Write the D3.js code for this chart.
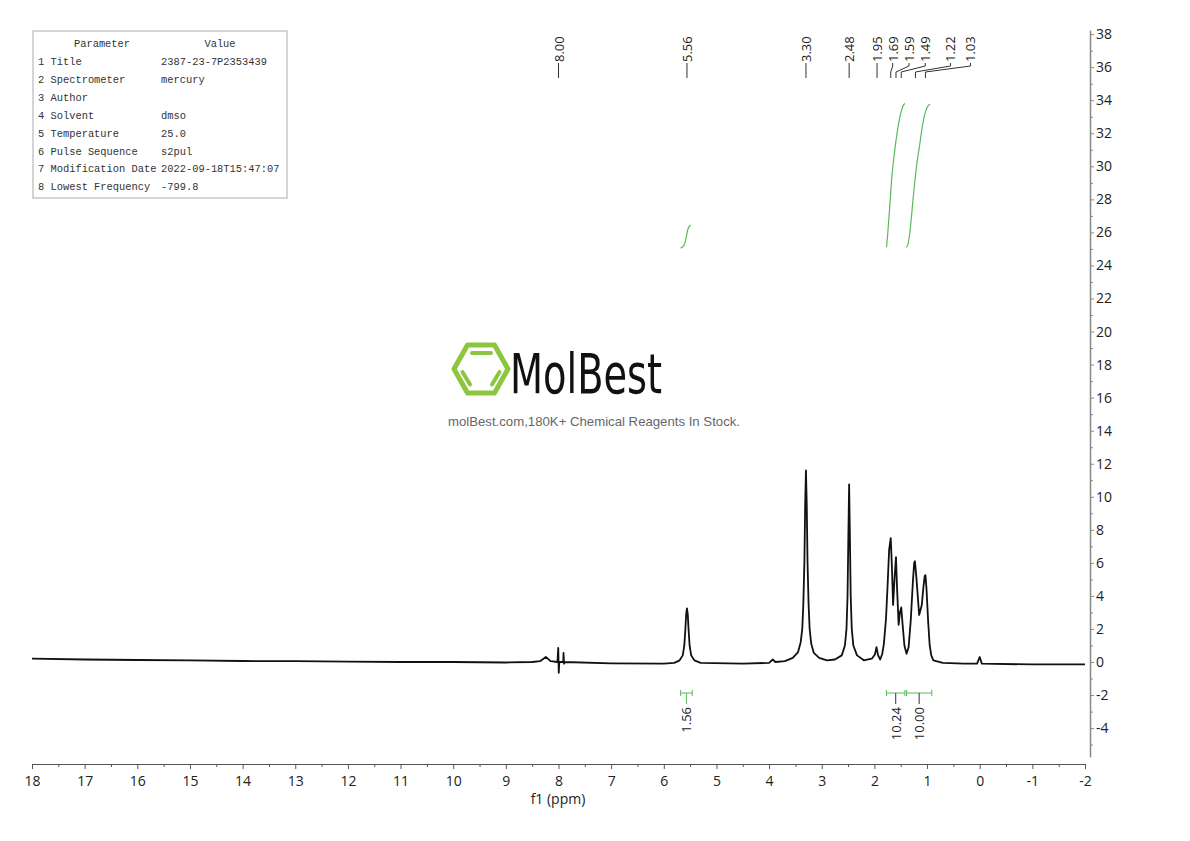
<!DOCTYPE html>
<head>
<meta charset="UTF-8">
<script src="https://d3js.org/d3.v7.min.js"></script>
<style>
  body { margin: 0; background: #fff; }
  text { font-family: "Open Sans", "Noto Sans", sans-serif; }
</style>
</head>
<body>
<div id="my_dataviz"></div>
<script>

// ---- data ----
var ppmTicks = d3.range(18, -3, -1);
var intensityTicks = d3.range(-4, 39, 2);

// spectrum trace [ppm, intensity]
var spectrum = [
  [18.0, 0.2], [17.0, 0.15], [16.0, 0.12], [15.0, 0.1], [14.0, 0.06], [13.0, 0.05],
  [12.0, 0.02], [11.0, 0.0], [10.0, 0.0], [9.0, -0.03], [8.5, 0.0], [8.35, 0.05],
  [8.24, 0.3], [8.15, 0.05], [8.02, 0.0], [8.005, 0.85], [7.995, -0.65], [7.985, 0.0],
  [7.91, 0.0], [7.905, 0.55], [7.895, -0.1], [7.885, 0.0], [7.0, -0.08], [6.0, -0.1],
  [5.8, -0.05], [5.7, 0.1], [5.64, 0.4], [5.61, 1.0], [5.59, 2.0], [5.575, 2.9],
  [5.56, 3.25], [5.545, 2.9], [5.53, 2.0], [5.51, 1.0], [5.48, 0.4], [5.42, 0.1],
  [5.3, -0.05], [4.5, -0.1], [4.0, -0.05], [3.93, 0.15], [3.88, 0.0], [3.7, 0.05],
  [3.55, 0.25], [3.45, 0.6], [3.40, 1.2], [3.37, 2.0], [3.35, 3.5], [3.33, 6.0],
  [3.315, 9.5], [3.30, 11.6], [3.285, 9.5], [3.27, 6.0], [3.25, 3.5], [3.23, 2.0],
  [3.20, 1.1], [3.15, 0.55], [3.05, 0.25], [2.9, 0.1], [2.75, 0.15], [2.62, 0.4],
  [2.56, 1.0], [2.53, 2.0], [2.51, 4.0], [2.495, 7.5], [2.48, 10.75], [2.465, 7.5],
  [2.45, 4.0], [2.43, 2.0], [2.40, 1.0], [2.33, 0.4], [2.2, 0.1], [2.05, 0.2],
  [1.99, 0.45], [1.96, 0.9], [1.93, 0.4], [1.89, 0.15], [1.85, 0.5], [1.82, 1.1],
  [1.78, 2.6], [1.75, 4.6], [1.72, 6.8], [1.69, 7.5], [1.67, 6.0], [1.645, 3.45],
  [1.615, 5.2], [1.59, 6.35], [1.57, 4.5], [1.54, 2.25], [1.515, 3.0], [1.49, 3.3],
  [1.465, 2.3], [1.43, 1.0], [1.39, 0.5], [1.35, 0.9], [1.31, 2.5], [1.27, 4.8],
  [1.245, 6.0], [1.23, 6.1], [1.2, 5.0], [1.15, 2.85], [1.10, 3.45], [1.07, 4.5],
  [1.045, 5.2], [1.03, 5.26], [1.01, 4.4], [0.98, 2.5], [0.95, 1.0], [0.92, 0.4],
  [0.88, 0.1], [0.7, -0.05], [0.3, -0.1], [0.05, -0.1], [0.0, 0.3], [-0.04, -0.1],
  [-1.0, -0.15], [-2.0, -0.15]
];

// integral curves [ppm, level]
var integral1 = [[5.68, 25.05], [5.62, 25.2], [5.58, 25.6], [5.55, 26.1], [5.52, 26.35], [5.49, 26.44]];
var integral2 = [[1.77, 25.1], [1.75, 25.8], [1.71, 27.5], [1.67, 29.3], [1.62, 30.8],
                 [1.56, 32.2], [1.50, 33.2], [1.45, 33.7], [1.42, 33.8]];
var integral3 = [[1.39, 25.1], [1.36, 25.3], [1.32, 26.2], [1.26, 28.2], [1.20, 30.0],
                 [1.14, 31.3], [1.08, 32.6], [1.02, 33.4], [0.97, 33.7], [0.94, 33.75]];

var integralRanges = [[5.68, 5.46], [1.77, 1.42], [1.39, 0.91]];
var integralValues = ["1.56", "10.24", "10.00"];

var peakPpm = [8.00, 5.56, 3.30, 2.48, 1.95, 1.69, 1.59, 1.49, 1.22, 1.03];

var paramNames = ["1 Title", "2 Spectrometer", "3 Author", "4 Solvent", "5 Temperature",
                  "6 Pulse Sequence", "7 Modification Date", "8 Lowest Frequency"];
var paramValues = ["2387-23-7P2353439", "mercury", "", "dmso", "25.0", "s2pul",
                   "2022-09-18T15:47:07", "-799.8"];

// ---- layout ----
var W = 1190, H = 841;
var green = "#5cb85c";

var svg = d3.select("#my_dataviz")
  .append("svg")
    .attr("width", W)
    .attr("height", H);

var x = d3.scaleLinear().domain([18, -2]).range([32, 1085]);
var y = d3.scaleLinear().domain([-5.75, 38.25]).range([757, 30]);

// plain hyphen for negatives, like the original
var fmt = function(d) { return String(d); };

// x axis
var xAxisY = 764;
var xAxis = svg.append("g")
  .attr("transform", "translate(0," + xAxisY + ")")
  .call(d3.axisBottom(x).tickValues(ppmTicks).tickSize(5).tickSizeOuter(0).tickPadding(7)
    .tickFormat(fmt));
xAxis.selectAll("path, line").attr("stroke", "#555");
xAxis.selectAll("text").style("font-size", "14px").attr("fill", "#222")
  .style("font-family", "'Open Sans', sans-serif");

var xMinor = svg.append("g")
  .attr("transform", "translate(0," + xAxisY + ")")
  .call(d3.axisBottom(x).tickValues(d3.range(17.5, -2, -1)).tickSize(3).tickFormat(""));
xMinor.select(".domain").remove();
xMinor.selectAll("line").attr("stroke", "#555");

svg.append("text")
  .attr("x", 558)
  .attr("y", 804)
  .attr("text-anchor", "middle")
  .style("font-size", "14px")
  .attr("fill", "#222")
  .text("f1 (ppm)");

// right y axis
var yAxisX = 1090;
var yAxis = svg.append("g")
  .attr("transform", "translate(" + yAxisX + ",0)")
  .call(d3.axisRight(y).tickValues(intensityTicks).tickSize(4).tickSizeOuter(0).tickPadding(2)
    .tickFormat(fmt));
yAxis.select(".domain").attr("stroke", "#888").attr("stroke-width", 1.5);
yAxis.selectAll("line").attr("stroke", "#888");
yAxis.selectAll("text").style("font-size", "14px").attr("fill", "#222")
  .style("font-family", "'Open Sans', sans-serif");

var yMinor = svg.append("g")
  .attr("transform", "translate(" + yAxisX + ",0)")
  .call(d3.axisRight(y).tickValues(d3.range(-5, 38, 2)).tickSize(3).tickFormat(""));
yMinor.select(".domain").remove();
yMinor.selectAll("line").attr("stroke", "#888");

// spectrum
var line = d3.line()
  .x(function(d) { return x(d[0]); })
  .y(function(d) { return y(d[1]); });

svg.append("path")
  .datum(spectrum)
  .attr("d", line)
  .attr("fill", "none")
  .attr("stroke", "#111")
  .attr("stroke-width", 1.8)
  .attr("stroke-linejoin", "round");

// integral curves
var curve = d3.line()
  .x(function(d) { return x(d[0]); })
  .y(function(d) { return y(d[1]); })
  .curve(d3.curveMonotoneX);

[integral1, integral2, integral3].forEach(function(arr) {
  svg.append("path")
    .datum(arr.slice().reverse())
    .attr("d", curve)
    .attr("fill", "none")
    .attr("stroke", green)
    .attr("stroke-width", 1.2);
});

// integral brackets + labels
var brY = 693;
integralRanges.forEach(function(r, i) {
  var x0 = x(r[0]), x1 = x(r[1]), xc = (x0 + x1) / 2;
  var g = svg.append("g").attr("stroke", green).attr("stroke-width", 1);
  g.append("line").attr("x1", x0).attr("x2", x1).attr("y1", brY).attr("y2", brY);
  g.append("line").attr("x1", x0).attr("x2", x0).attr("y1", brY - 3).attr("y2", brY + 3);
  g.append("line").attr("x1", x1).attr("x2", x1).attr("y1", brY - 3).attr("y2", brY + 3);
  svg.append("line")
    .attr("x1", xc).attr("x2", xc).attr("y1", brY).attr("y2", 704)
    .attr("stroke", i == 0 ? green : "#333").attr("stroke-width", 1);
  svg.append("text")
    .attr("transform", "translate(" + (xc + 5) + ",707) rotate(-90)")
    .attr("text-anchor", "end")
    .style("font-size", "13px")
    .attr("fill", "#222")
    .text(integralValues[i]);
});

// peak labels (crowded ones are spread to the right)
var labelShift = [0, 0, 0, 0, 0, 2, 13, 24, 35, 45];
peakPpm.forEach(function(p, i) {
  var px = x(p), lx = px + labelShift[i];
  svg.append("path")
    .attr("d", "M" + lx + ",63 L" + lx + ",66 L" + px + ",72 L" + px + ",78")
    .attr("fill", "none")
    .attr("stroke", "#333")
    .attr("stroke-width", 1);
  svg.append("text")
    .attr("transform", "translate(" + (lx + 5) + ",62) rotate(-90)")
    .attr("text-anchor", "start")
    .style("font-size", "13px")
    .attr("fill", "#222")
    .text(p.toFixed(2));
});

// parameter table
var tbl = svg.append("g");
tbl.append("rect")
  .attr("x", 33).attr("y", 31).attr("width", 254).attr("height", 167)
  .attr("fill", "#fff").attr("stroke", "#aaa");

function monoText(tx, ty, s, anchor) {
  if (!s) return;
  tbl.append("text")
    .attr("x", tx).attr("y", ty)
    .attr("text-anchor", anchor || "start")
    .style("font-family", "'Liberation Mono', 'DejaVu Sans Mono', monospace")
    .style("font-size", "10.4px")
    .attr("fill", "#333")
    .text(s);
}
monoText(102, 47, "Parameter", "middle");
monoText(220, 47, "Value", "middle");
paramNames.forEach(function(n, i) {
  var ty = 65 + i * 17.9;
  monoText(38, ty, n);
  monoText(161, ty, paramValues[i]);
});

// watermark logo
var logo = svg.append("g");
var logoGreen = "#8cc63f";
logo.append("path")
  .attr("d", "M454,369 L467.5,345 L494.5,345 L508,369 L494.5,393 L467.5,393 Z")
  .attr("fill", "none").attr("stroke", logoGreen).attr("stroke-width", 5)
  .attr("stroke-linejoin", "round");
logo.append("path")
  .attr("d", "M472,353 L491,353 M462.5,372 L470,384.5 M499.5,372 L492,384.5")
  .attr("fill", "none").attr("stroke", logoGreen).attr("stroke-width", 4)
  .attr("stroke-linecap", "round");
logo.append("text")
  .attr("x", 510).attr("y", 393)
  .attr("textLength", 152)
  .attr("lengthAdjust", "spacingAndGlyphs")
  .style("font-family", "'Liberation Sans Narrow', 'DejaVu Sans Condensed', sans-serif")
  .style("font-size", "55px")
  .attr("fill", "#111")
  .text("MolBest");
logo.append("text")
  .attr("x", 448).attr("y", 426)
  .attr("textLength", 292)
  .attr("lengthAdjust", "spacingAndGlyphs")
  .style("font-family", "'Liberation Sans', Arial, sans-serif")
  .style("font-size", "13px")
  .attr("fill", "#666")
  .text("molBest.com,180K+ Chemical Reagents In Stock.");

</script>
</body>
